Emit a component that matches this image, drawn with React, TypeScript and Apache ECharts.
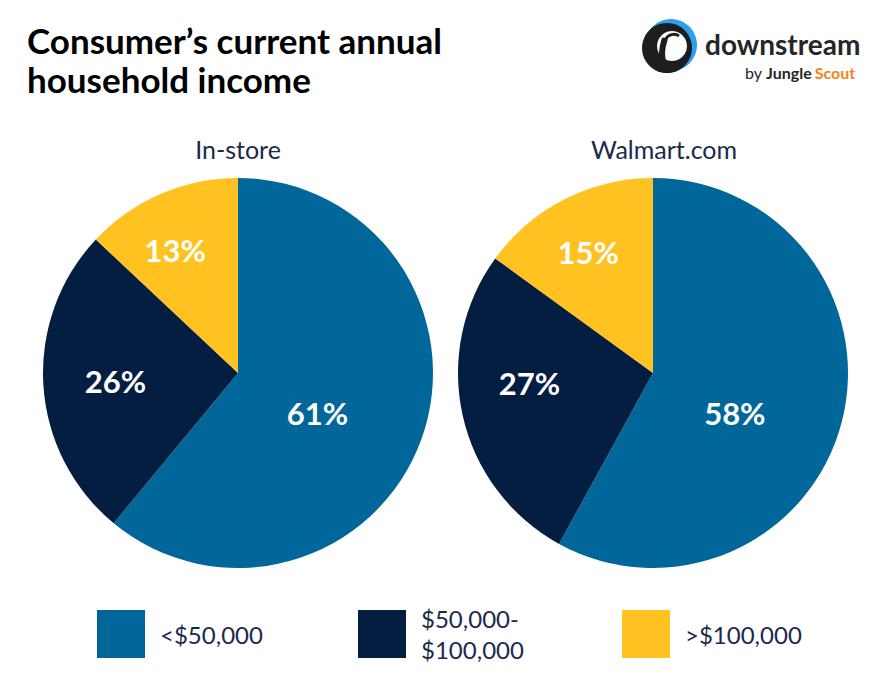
import React, { useEffect, useRef } from "react";
import * as echarts from "echarts";

const categories = ["<$50,000", "$50,000-\n$100,000", ">$100,000"];
const inStoreValues = [61, 26, 13];
const walmartValues = [58, 27, 15];
const pieTitles = ["In-store", "Walmart.com"];
const titleLines = ["Consumer\u2019s current annual", "household income"];
const colors = ["#01679a", "#041e42", "#ffc220"];
// label placement per slice: angular shift (deg) from ECharts' inside position, radial fraction of radius
const inStoreLabelShift = [6.8, 0, -3.7];
const inStoreLabelFrac = [0.456, 0.63, 0.708];
const walmartLabelShift = [11.6, 8, -1.2];
const walmartLabelFrac = [0.467, 0.636, 0.703];

const FONT = "Lato, 'Noto Sans', sans-serif";
const PIE_CENTERS = [238, 653];
const PIE_TITLE_X = [238, 664];
const PIE_CY = 373;
const PIE_R = 195;

export default function App() {
  const ref = useRef<HTMLDivElement>(null);
  useEffect(() => {
    if (!ref.current) return;
    const chart = echarts.init(ref.current, undefined, { renderer: "svg" });
    const mkData = (vals: number[]) =>
      vals.map((v, i) => ({ name: categories[i], value: v, itemStyle: { color: colors[i] } }));
    const pieSeries = (vals: number[], cx: number, shift: number[], frac: number[]) => ({
      type: "pie",
      center: [cx, PIE_CY],
      radius: PIE_R,
      startAngle: 90,
      clockwise: true,
      silent: true,
      data: mkData(vals),
      itemStyle: { borderWidth: 0 },
      label: {
        show: true,
        position: "inside",
        formatter: "{c}%",
        color: "#ffffff",
        fontFamily: FONT,
        fontWeight: "bold",
        fontSize: 31,
      },
      labelLayout: (p: any) => {
        const r = p.labelRect;
        const lx = r.x + r.width / 2;
        const ly = r.y + r.height / 2;
        const theta = Math.atan2(lx - cx, -(ly - PIE_CY)) + (shift[p.dataIndex] * Math.PI) / 180;
        const d = frac[p.dataIndex] * PIE_R;
        const nx = cx + d * Math.sin(theta);
        const ny = PIE_CY - d * Math.cos(theta);
        return { dx: nx - lx, dy: ny - ly };
      },
      labelLine: { show: false },
      emphasis: { disabled: true },
    });
    const legendLefts = [97, 358, 622];
    const legendTops = [610, 603, 610];
    chart.setOption({
      animation: false,
      backgroundColor: "#ffffff",
      title: [
        ...titleLines.map((t, i) => ({
          text: t,
          left: 27,
          top: 22 + i * 39,
          padding: 0,
          textStyle: {
            fontFamily: FONT,
            fontWeight: "bold",
            fontSize: 35,
            lineHeight: 35,
            color: "#000000",
          },
        })),
        ...pieTitles.map((t, i) => ({
          text: t,
          left: PIE_TITLE_X[i],
          top: 136,
          padding: 0,
          textAlign: "center",
          textStyle: { fontFamily: FONT, fontWeight: "normal", fontSize: 25, color: "#1b2a4a" },
        })),
      ],
      legend: categories.map((c, i) => ({
        data: [c],
        left: legendLefts[i],
        top: legendTops[i],
        padding: 0,
        orient: "horizontal",
        icon: "rect",
        itemWidth: 48,
        itemHeight: 48,
        selectedMode: false,
        textStyle: {
          fontFamily: FONT,
          fontSize: 24,
          lineHeight: 31,
          color: "#1b2a4a",
          padding: [0, 0, 0, 10],
        },
      })),
      series: [
        pieSeries(inStoreValues, PIE_CENTERS[0], inStoreLabelShift, inStoreLabelFrac),
        pieSeries(walmartValues, PIE_CENTERS[1], walmartLabelShift, walmartLabelFrac),
      ],
      graphic: [
        { type: "circle", shape: { cx: 671, cy: 45, r: 26 }, style: { fill: "#2b9ff0" } },
        { type: "circle", shape: { cx: 667, cy: 48, r: 25 }, style: { fill: "#1e1e1e" } },
        { type: "circle", shape: { cx: 672, cy: 46, r: 15 }, style: { fill: "#ffffff" } },
        {
          type: "bezierCurve",
          shape: { x1: 663, y1: 61, x2: 665, y2: 38, cpx1: 660, cpy1: 50, cpx2: 664, cpy2: 43 },
          style: { stroke: "#1e1e1e", lineWidth: 6, fill: null },
        },
        {
          type: "bezierCurve",
          shape: { x1: 665, y1: 40, x2: 679, y2: 36, cpx1: 668, cpy1: 34, cpx2: 675, cpy2: 33 },
          style: { stroke: "#1e1e1e", lineWidth: 3, fill: null },
        },
        {
          type: "text",
          left: 705,
          top: 30,
          style: { text: "downstream", fontFamily: FONT, fontWeight: "bold", fontSize: 28, fill: "#262626" },
        },
        {
          type: "text",
          left: 745,
          top: 64,
          style: {
            text: "{a|by }{b|Jungle}{c|Scout}",
            rich: {
              a: { fontFamily: FONT, fontSize: 16, fill: "#262626" },
              b: { fontFamily: FONT, fontSize: 16, fontWeight: "bold", fill: "#262626", padding: [0, 3, 0, 0] },
              c: { fontFamily: FONT, fontSize: 16, fontWeight: "bold", fill: "#f58220" },
            },
          },
        },
      ],
    });
    return () => chart.dispose();
  }, []);
  return (
    <div
      ref={ref}
      style={{ position: "absolute", left: 0, top: 0, width: 894, height: 684 }}
    />
  );
}
